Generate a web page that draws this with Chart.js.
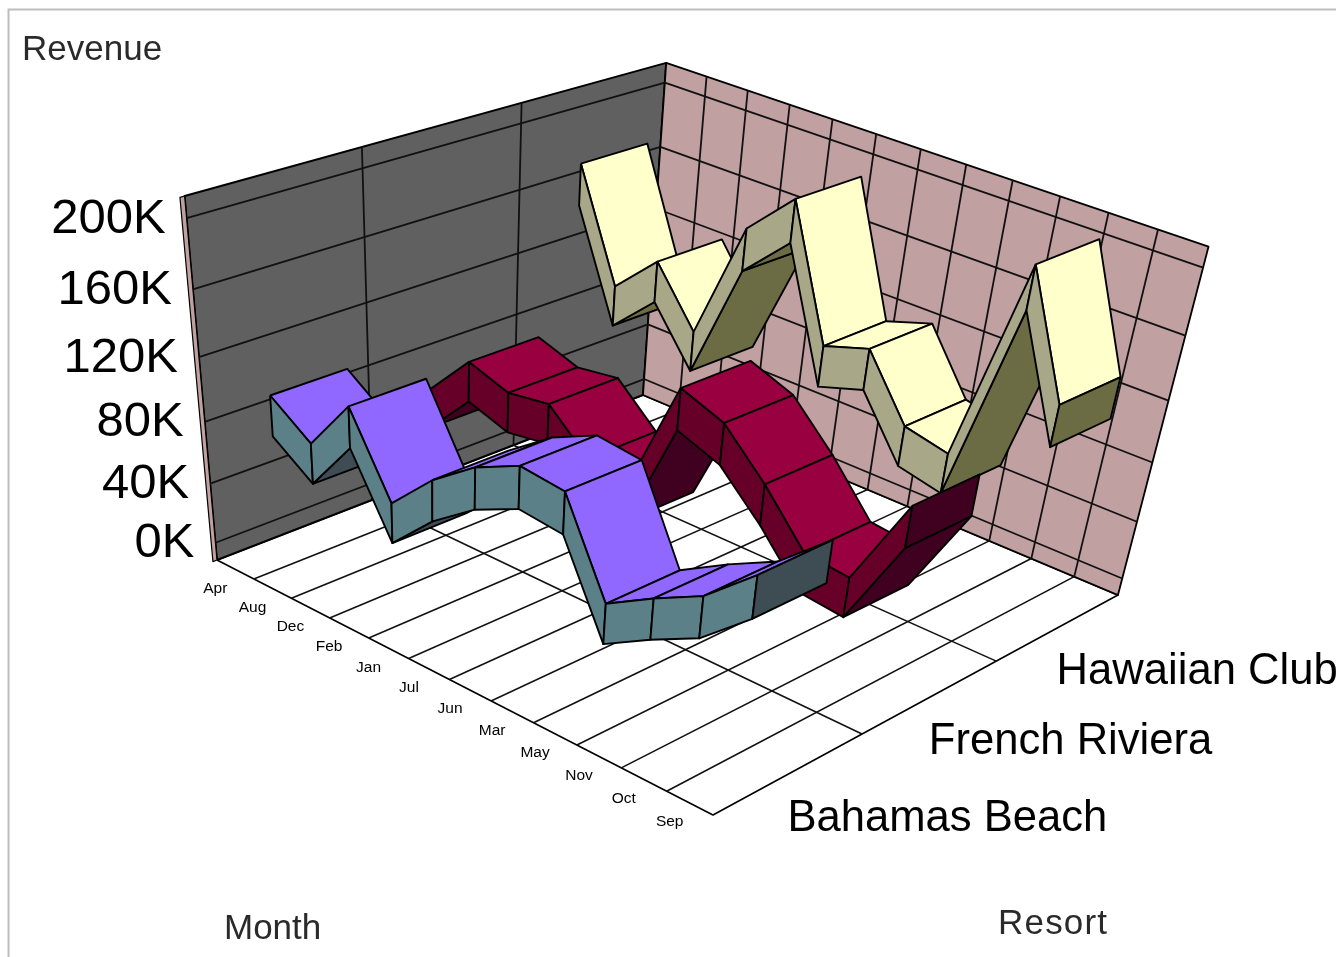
<!DOCTYPE html>
<html>
<head>
<meta charset="utf-8">
<title>Revenue by Month and Resort</title>
<script src="https://cdn.jsdelivr.net/npm/chart.js@4"></script>
<style>
  html, body { margin: 0; padding: 0; background: #fff; }
  canvas { display: block; }
</style>
</head>
<body>
<canvas id="chart" width="1336" height="957"></canvas>
<script>
// Category axis: months, in the alphabetical order the report sorts them.
const months = ['Apr', 'Aug', 'Dec', 'Feb', 'Jan', 'Jul', 'Jun', 'Mar', 'May', 'Nov', 'Oct', 'Sep'];
const resorts = ['Bahamas Beach', 'French Riviera', 'Hawaiian Club'];
const revenueTicks = [0, 40, 80, 120, 160, 200];

// Revenue in thousands, one value per month.
const bahamasBeach = [92, 73, 108, 59, 86, 106, 119, 116, 60, 77, 92, 118];
const frenchRiviera = [60, 89, 80, 84, 60, 57, 128, 118, 92, 61, 58, 116];
const hawaiianClub = [173, 105, 131, 96, 171, 198, 119, 128, 90, 84, 209, 138];

// Vertical range of the box, and ribbon geometry in axis units.
const revenueMin = -12;
const revenueMax = 212;
const ribbonThickness = 26;
const ribbonFront = 0.28;
const ribbonBack = 0.75;

// Perspective camera: maps (month fraction, resort fraction, height fraction) to the page.
const camera = [
  [411.7, 519.2, -55, 217],
  [158.7, -107.7, -388, 560],
  [-0.1182, 0.145, -0.1225, 1]
];

function project(u, r, z) {
  const v = [u / months.length, r / resorts.length, (z - revenueMin) / (revenueMax - revenueMin), 1];
  const dot = row => row[0] * v[0] + row[1] * v[1] + row[2] * v[2] + row[3] * v[3];
  const w = dot(camera[2]);
  return { x: dot(camera[0]) / w, y: dot(camera[1]) / w };
}

const shapes = [];

function polygon(points, fillColor, edge) {
  shapes.push({
    data: points.concat([points[0]]),
    showLine: true,
    pointRadius: 0,
    tension: 0,
    fill: 'shape',
    backgroundColor: fillColor,
    borderColor: '#000',
    borderWidth: edge,
    borderJoinStyle: 'round',
    clip: false
  });
}

function segment(a, b, color, width) {
  shapes.push({
    data: [a, b],
    showLine: true,
    pointRadius: 0,
    tension: 0,
    fill: false,
    borderColor: color,
    borderWidth: width,
    clip: false
  });
}

function signedArea(points) {
  let sum = 0;
  points.forEach((p, i) => {
    const q = points[(i + 1) % points.length];
    sum += p.x * q.y - q.x * p.y;
  });
  return sum;
}

function drawBox() {
  const nu = months.length, nr = resorts.length;
  // Floor
  polygon([project(0, 0, revenueMin), project(nu, 0, revenueMin), project(nu, nr, revenueMin), project(0, nr, revenueMin)], '#ffffff', 1.6);
  // Back walls and the thin end of the month wall
  polygon([project(0, 0, revenueMin), project(0, nr, revenueMin), project(0, nr, revenueMax), project(0, 0, revenueMax)], '#606060', 2);
  polygon([project(0, nr, revenueMin), project(nu, nr, revenueMin), project(nu, nr, revenueMax), project(0, nr, revenueMax)], '#c0a0a0', 1.8);
  polygon([project(0, 0, revenueMin), project(0, -0.025, revenueMin), project(0, -0.025, revenueMax), project(0, 0, revenueMax)], '#c0a0a0', 1.2);

  for (let i = 1; i < nu; i++) segment(project(i, 0, revenueMin), project(i, nr, revenueMin), '#111', 1.6);
  for (let j = 1; j < nr; j++) segment(project(0, j, revenueMin), project(nu, j, revenueMin), '#111', 1.6);
  for (let i = 1; i < nu; i++) segment(project(i, nr, revenueMin), project(i, nr, revenueMax), '#111', 1.8);
  for (let j = 1; j < nr; j++) segment(project(0, j, revenueMin), project(0, j, revenueMax), '#111', 1.8);
  revenueTicks.forEach(t => {
    segment(project(0, 0, t), project(0, nr, t), '#111', 1.8);
    segment(project(0, nr, t), project(nu, nr, t), '#111', 1.8);
  });
}

// One ribbon: an extruded strip with hidden faces dropped, painted from the far month forward.
function drawRibbon(values, band, colors) {
  const r0 = band + ribbonFront, r1 = band + ribbonBack;
  const corners = i => {
    const u = i + 0.5, top = values[i], low = top - ribbonThickness;
    return {
      ft: project(u, r0, top), bt: project(u, r1, top),
      fb: project(u, r0, low), bb: project(u, r1, low)
    };
  };
  for (let i = 0; i < values.length - 1; i++) {
    const a = corners(i), b = corners(i + 1);
    const bottom = [a.fb, b.fb, b.bb, a.bb];
    const top = [a.ft, b.ft, b.bt, a.bt];
    const front = [a.ft, b.ft, b.fb, a.fb];
    if (signedArea(bottom) > 0) polygon(bottom, colors.under, 1.9);
    if (signedArea(top) < 0) polygon(top, colors.top, 1.9);
    if (signedArea(front) > 0) polygon(front, colors.side, 1.9);
  }
  const end = corners(values.length - 1);
  polygon([end.ft, end.bt, end.bb, end.fb], colors.under, 1.9);
}

drawBox();
drawRibbon(hawaiianClub, 2, { top: '#ffffcc', side: '#a8a888', under: '#6c6c44' });
drawRibbon(frenchRiviera, 1, { top: '#990040', side: '#660028', under: '#400020' });
drawRibbon(bahamasBeach, 0, { top: '#9068ff', side: '#5c8088', under: '#3e4c54' });

// Axis text and the frame are placed through the same projection.
const axisText = {
  id: 'axisText',
  afterDatasetsDraw(chart) {
    const ctx = chart.ctx;
    ctx.save();
    ctx.strokeStyle = '#bdbdbd';
    ctx.lineWidth = 2;
    ctx.beginPath();
    ctx.moveTo(8.5, 957);
    ctx.lineTo(8.5, 9.5);
    ctx.lineTo(1336, 9.5);
    ctx.stroke();

    ctx.textBaseline = 'middle';
    ctx.fillStyle = '#000';

    ctx.textAlign = 'right';
    ctx.font = '49px "Liberation Sans", Arial, sans-serif';
    revenueTicks.forEach(t => {
      const p = project(0, 0, t);
      ctx.fillText(t + 'K', p.x - 21, p.y + 1);
    });

    ctx.textAlign = 'left';
    ctx.font = '43.6px "Liberation Sans", Arial, sans-serif';
    resorts.forEach((name, j) => {
      const p = project(months.length, j + 0.5, revenueMin);
      ctx.fillText(name, p.x - 2, p.y + 45);
    });

    ctx.textAlign = 'center';
    ctx.font = '15.5px "Liberation Sans", Arial, sans-serif';
    months.forEach((name, i) => {
      const p = project(i + 0.5, 0, revenueMin);
      ctx.fillText(name, p.x - 20, p.y + 19);
    });

    ctx.textAlign = 'left';
    ctx.fillStyle = '#2a2a2a';
    ctx.font = '35px "Liberation Sans", Arial, sans-serif';
    ctx.fillText('Revenue', 22, 50);
    ctx.fillText('Month', 224, 929);
    ctx.letterSpacing = '1.2px';
    ctx.fillText('Resort', 998, 924);
    ctx.restore();
  }
};

new Chart(document.getElementById('chart'), {
  type: 'scatter',
  // The library paints later datasets first, so the list is reversed to paint back to front.
  data: { datasets: shapes.slice().reverse() },
  options: {
    responsive: false,
    animation: false,
    events: [],
    layout: { padding: 0 },
    plugins: { legend: { display: false }, tooltip: { enabled: false } },
    scales: {
      x: { type: 'linear', display: false, min: 0, max: 1336 },
      y: { type: 'linear', display: false, min: 0, max: 957, reverse: true }
    }
  },
  plugins: [axisText]
});
</script>
</body>
</html>
